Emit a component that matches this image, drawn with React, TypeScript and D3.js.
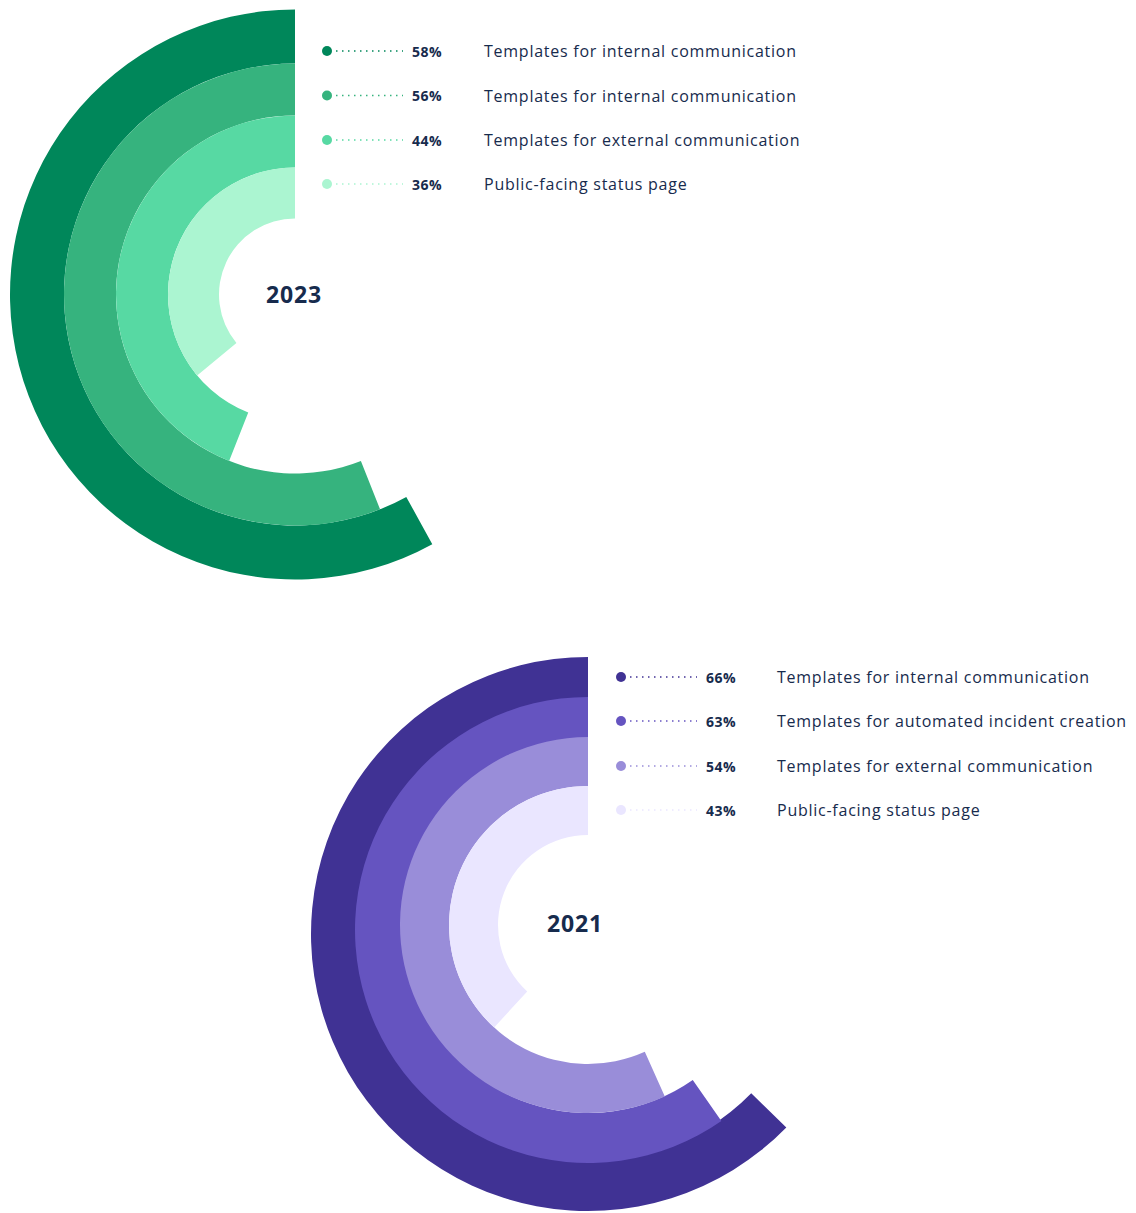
import React from "react";
import * as d3 from "d3";

// ---- data ----
const labels2023 = [
  "Templates for internal communication",
  "Templates for internal communication",
  "Templates for external communication",
  "Public-facing status page",
];
const values2023 = [58, 56, 44, 36];
const colors2023 = ["#00875A", "#36B37E", "#57D9A3", "#ABF5D1"];

const labels2021 = [
  "Templates for internal communication",
  "Templates for automated incident creation",
  "Templates for external communication",
  "Public-facing status page",
];
const values2021 = [66, 63, 54, 43];
// share of the circle that each 2021 arc actually sweeps in the picture
const drawnShare2021 = [62.7, 59.7, 56.7, 38.2];
const colors2021 = ["#403294", "#6554C0", "#998DD9", "#EAE6FF"];

const TEXT = "#172B4D";
const FONT = "'Open Sans', 'Noto Sans', sans-serif";

const angle = d3.scaleLinear().domain([0, 100]).range([0, -2 * Math.PI]);

type Ring = { cx: number; cy: number; outer: number; inner: number };

function RadialChart(props: {
  year: string;
  labels: string[];
  values: number[];
  shares: number[];
  colors: string[];
  rings: Ring[];
  yearPos: [number, number];
  legendX: number;
  legendY: number[];
  pctX: number;
  labelX: number;
}) {
  const arc = d3.arc<any>();
  return (
    <g>
      {props.shares.map((s, i) => {
        const r = props.rings[i];
        const d = arc({
          innerRadius: r.inner,
          outerRadius: r.outer,
          startAngle: 0,
          endAngle: angle(s),
        }) as string;
        return (
          <path
            key={"a" + i}
            d={d}
            transform={`translate(${r.cx},${r.cy})`}
            fill={props.colors[i]}
          />
        );
      })}
      <text
        x={props.yearPos[0]}
        y={props.yearPos[1]}
        textAnchor="middle"
        dominantBaseline="central"
        fontFamily={FONT}
        fontWeight={700}
        fontSize={23}
        letterSpacing={0.8}
        fill={TEXT}
      >
        {props.year}
      </text>
      {props.values.map((v, i) => {
        const y = props.legendY[i];
        return (
          <g key={"l" + i}>
            <circle cx={props.legendX} cy={y} r={5} fill={props.colors[i]} />
            <line
              x1={props.legendX + 9}
              x2={props.legendX + 76}
              y1={y}
              y2={y}
              stroke={props.colors[i]}
              strokeWidth={1.5}
              strokeDasharray="1.5 4.5"
            />
            <text
              x={props.pctX}
              y={y}
              dominantBaseline="central"
              fontFamily={FONT}
              fontWeight={700}
              fontSize={14}
              letterSpacing={0.5}
              fill={TEXT}
            >
              {v + "%"}
            </text>
            <text
              x={props.labelX}
              y={y}
              dominantBaseline="central"
              fontFamily={FONT}
              fontWeight={400}
              fontSize={16}
              letterSpacing={0.75}
              fill={TEXT}
            >
              {props.labels[i]}
            </text>
          </g>
        );
      })}
    </g>
  );
}

export default function App() {
  const b23 = [285, 231, 179, 127, 76];
  const rings2023: Ring[] = values2023.map((_, i) => ({
    cx: 295,
    cy: 294.5,
    outer: b23[i],
    inner: b23[i + 1],
  }));
  const rings2021: Ring[] = [
    { cx: 588, cy: 934, outer: 277, inner: 228 },
    { cx: 588, cy: 930, outer: 233, inner: 183 },
    { cx: 588, cy: 925, outer: 188, inner: 139 },
    { cx: 588, cy: 925, outer: 139, inner: 90 },
  ];
  return (
    <svg
      width={1136}
      height={1213}
      style={{ position: "absolute", left: 0, top: 0, display: "block", background: "#fff" }}
    >
      <RadialChart
        year="2023"
        labels={labels2023}
        values={values2023}
        shares={values2023}
        colors={colors2023}
        rings={rings2023}
        yearPos={[294, 294]}
        legendX={327}
        legendY={[51, 95.5, 140, 184]}
        pctX={412}
        labelX={484}
      />
      <RadialChart
        year="2021"
        labels={labels2021}
        values={values2021}
        shares={drawnShare2021}
        colors={colors2021}
        rings={rings2021}
        yearPos={[575, 922.5]}
        legendX={621}
        legendY={[677, 721, 766, 810]}
        pctX={706}
        labelX={777}
      />
    </svg>
  );
}
